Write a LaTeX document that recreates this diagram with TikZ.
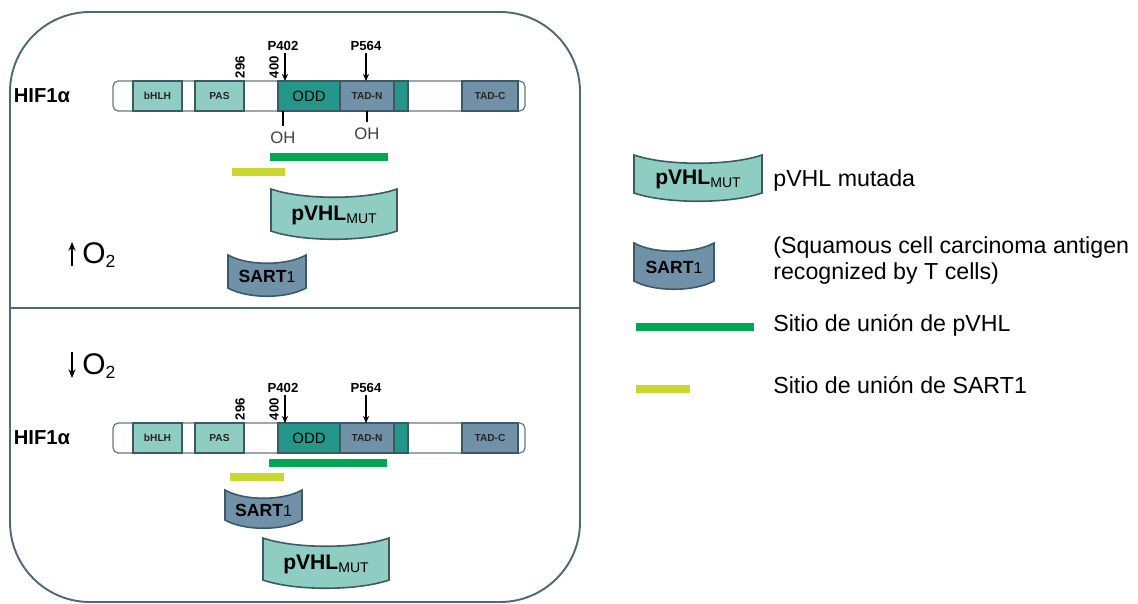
\documentclass[tikz,border=0pt]{standalone}
\usepackage{fontspec}
\setmainfont{Liberation Sans}
\usetikzlibrary{arrows.meta}

\definecolor{lteal}{HTML}{8FCDC2}
\definecolor{dteal}{HTML}{24978A}
\definecolor{slateblue}{HTML}{7091A8}
\definecolor{edgecol}{HTML}{3B5A64}
\definecolor{framecol}{HTML}{4E6A76}
\definecolor{sitegreen}{HTML}{00A651}
\definecolor{siteyellow}{HTML}{C9D62E}

\newcommand{\fs}[1]{\fontsize{#1}{#1}\selectfont}
\newcommand{\pvhltext}{{\fs{12}\bfseries pVHL}\raisebox{-2pt}{\fs{8}MUT}}
\newcommand{\sarttext}{{\fs{10}\bfseries SART}{\fs{9}1}}

% bent protein box: name, x1, ytop, x2, ybot, fill, text
\newcommand{\bentbox}[7]{%
  \draw[prot, fill=#6] (#2,#3) .. controls ({#2+(#4-#2)/4},{#3+11}) and ({#4-(#4-#2)/4},{#3+11}) .. (#4,#3)
    -- (#4,#5) .. controls ({#4-(#4-#2)/4},{#5+11}) and ({#2+(#4-#2)/4},{#5+11}) .. (#2,#5) -- cycle;
  \node (#1) at ({(#2+#4)/2},{(#3+#5)/2+5}) {#7};
}

% HIF1a domain bar, #1 = name prefix
\newcommand{\hifbar}[1]{%
  \coordinate (#1top) at (0,81);
  \coordinate (#1bot) at (0,111);
  \node[font=\fs{11.5}\bfseries] (#1hif) at (42,96) {HIF1α};
  \draw[hifline, fill=white, rounded corners=3pt] (113,81) rectangle (525,111);
  \draw[dom, fill=lteal] (133,81) rectangle node[domlbl] (#1bhlh) {bHLH} (182,111);
  \draw[dom, fill=lteal] (195,81) rectangle node[domlbl] (#1pas) {PAS} (244,111);
  \draw[dom, fill=dteal] (278,81) rectangle node[font=\fs{8.5}] (#1odd) {ODD} (340,111);
  \draw[dom, fill=slateblue] (340,81) rectangle node[domlbl] (#1tadn) {TAD-N} (394,111);
  \draw[dom, fill=dteal] (394,81) rectangle (408,111);
  \draw[dom, fill=slateblue] (462,81) rectangle node[domlbl] (#1tadc) {TAD-C} (518,111);
  \node[numlbl, rotate=90] (#1n296) at (240,67) {296};
  \node[numlbl, rotate=90] (#1n400) at (274,67) {400};
  \node[numlbl] (#1pa) at (283,46) {P402};
  \node[numlbl] (#1pb) at (366,46) {P564};
  \draw[pin] (#1pa.south -| 285,0) -- (285,81);
  \draw[pin] (#1pb.south) -- (#1pb.south |- #1top);
}

\begin{document}
\begin{tikzpicture}[x=0.02cm, y=-0.02cm,
    prot/.style={draw=edgecol, line width=0.9pt},
    dom/.style={draw=edgecol, line width=0.8pt},
    hifline/.style={draw=edgecol!80, line width=0.7pt},
    domlbl/.style={font=\fs{5.8}\bfseries, text=black!85},
    numlbl/.style={font=\fs{7.5}\bfseries, inner sep=1pt},
    pin/.style={-{Stealth[length=4pt, width=3.5pt]}, line width=0.7pt},
    site/.style={line width=4.5pt},
    o2arrow/.style={-{Stealth[length=5pt, width=4pt]}, line width=1pt},
    legend/.style={font=\fs{13.2}, anchor=west, inner sep=0pt}]
  \useasboundingbox (0,0) rectangle (1138,603);

  % frame and divider
  \draw[framecol, line width=1.1pt, rounded corners=1.6cm] (10,12) rectangle (580,602);
  \draw[framecol, line width=1pt] (10,308) -- (580,308);

  % high oxygen
  \hifbar{t}
  \node[font=\fs{9.5}, text=black!75] (oha) at (283,138) {OH};
  \node[font=\fs{9.5}, text=black!75] (ohb) at (367,134) {OH};
  \draw[line width=0.7pt] (oha.north) -- (oha.north |- tbot);
  \draw[line width=0.7pt] (ohb.north) -- (ohb.north |- tbot);
  \draw[site, sitegreen] (270,157) -- (388,157);
  \draw[site, siteyellow] (232,172) -- (285,172);
  \bentbox{pvhlt}{271}{189}{397}{231}{lteal}{\pvhltext}
  \bentbox{sartt}{228}{255}{306}{288}{slateblue}{\sarttext}
  \coordinate (upfoot) at (72,266);
  \coordinate (uphead) at (72,242);
  \draw[o2arrow] (upfoot) -- (uphead);
  \node[font=\fs{17}, anchor=west, inner sep=0pt] (o2up) at (82,255) {O\raisebox{-2pt}{\fs{10}2}};

  % low oxygen
  \coordinate (dnfoot) at (72,352);
  \coordinate (dnhead) at (72,378);
  \draw[o2arrow] (dnfoot) -- (dnhead);
  \node[font=\fs{17}, anchor=west, inner sep=0pt] (o2dn) at (82,366) {O\raisebox{-2pt}{\fs{10}2}};
  \begin{scope}[shift={(0,342)}]
    \hifbar{b}
  \end{scope}
  \draw[site, sitegreen] (269,463) -- (387,463);
  \draw[site, siteyellow] (230,477) -- (284,477);
  \bentbox{sartb}{225}{490}{302}{520}{slateblue}{\sarttext}
  \bentbox{pvhlb}{263}{538}{389}{580}{lteal}{\pvhltext}

  % legend
  \bentbox{pvhll}{634}{155}{762}{193}{lteal}{\pvhltext}
  \node[legend] (lpvhl) at (773,180) {pVHL mutada};
  \bentbox{sartl}{634}{243}{714}{281}{slateblue}{\sarttext}
  \node[legend] (lsart1) at (773,247) {(Squamous cell carcinoma antigen};
  \node[legend] (lsart2) at (773,273) {recognized by T cells)};
  \draw[site, sitegreen] (636,327) -- (754,327);
  \node[legend] (lgreen) at (773,325) {Sitio de unión de pVHL};
  \draw[site, siteyellow] (636,389) -- (690,389);
  \node[legend] (lyellow) at (773,385) {Sitio de unión de SART1};
\end{tikzpicture}
\end{document}
